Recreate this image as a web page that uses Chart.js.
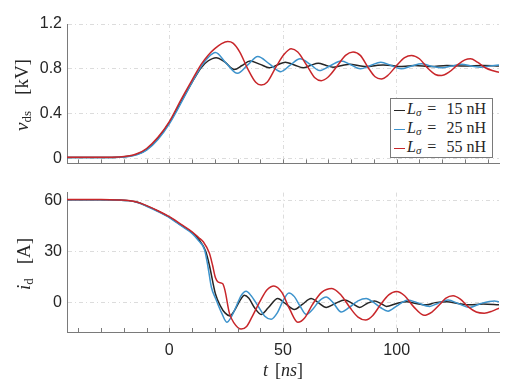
<!DOCTYPE html>
<html>
<head>
<meta charset="utf-8">
<script src="https://cdn.jsdelivr.net/npm/chart.js@4.4.1/dist/chart.umd.min.js"></script>
<style>
  body { margin: 0; background: #fff; }
  #wrap { position: relative; width: 520px; height: 387px; overflow: hidden; }
  canvas { position: absolute; left: 0; }
  .math { position: absolute; font-family: 'Liberation Serif', 'Times New Roman', serif; font-size: 18px; color: #262626; white-space: nowrap; line-height: 1; }
  .rot { transform: translate(-50%, -50%) rotate(-90deg); font-size: 19px; }
  .hor { transform: translate(-50%, -50%); }
  .math sub { font-size: 13px; font-style: normal; vertical-align: -3px; line-height: 0; }
  #legend { position: absolute; left: 390px; top: 98px; width: 101px; height: 58px; border: 1px solid #7a7a7a; background: #fff;
            font-family: 'Liberation Serif', serif; font-size: 16px; color: #262626; }
  #legend .row { height: 19px; line-height: 19px; white-space: nowrap; padding-left: 3px; }
  #legend .sw { display: inline-block; width: 11px; height: 0; border-top: 1.5px solid; vertical-align: middle; margin-right: 2px; }
  #legend sub { font-size: 11px; vertical-align: -2px; line-height: 0; }
</style>
</head>
<body>
<div id="wrap">
  <canvas id="vChart" width="520" height="178" style="top:0"></canvas>
  <canvas id="iChart" width="520" height="209" style="top:178px"></canvas>

  <div class="math rot" style="left:21px; top:95px"><i>v</i><sub>ds</sub><span style="margin-left:16px">[kV]</span></div>
  <div class="math rot" style="left:23px; top:264px"><i>i</i><sub>d</sub><span style="margin-left:14px">[A]</span></div>
  <div class="math hor" style="left:283px; top:370px"><i>t</i><span style="margin-left:7px">[<i>ns</i>]</span></div>

  <div id="legend">
    <div class="row"><span class="sw" style="color:#262626"></span><i>L</i><sub><i>σ</i></sub><span style="margin:0 10px 0 6px">=</span>15<span style="margin-left:4px">nH</span></div>
    <div class="row"><span class="sw" style="color:#3d93cc"></span><i>L</i><sub><i>σ</i></sub><span style="margin:0 10px 0 6px">=</span>25<span style="margin-left:4px">nH</span></div>
    <div class="row"><span class="sw" style="color:#c8262a"></span><i>L</i><sub><i>σ</i></sub><span style="margin:0 10px 0 6px">=</span>55<span style="margin-left:4px">nH</span></div>
  </div>
</div>

<script>
// --- tick values ---
const tTicks = [-40, -30, -20, -10, 0, 10, 20, 30, 40, 50, 60, 70, 80, 90, 100, 110, 120, 130, 140];
const tLabels = [0, 50, 100];
const vTicks = [0, 0.4, 0.8, 1.2];
const iTicks = [0, 30, 60];

// --- v_ds [kV], L = 15 nH ---
const tV15 = [-45,-30,-22,-18,-14,-10,-5,0,5,10,14,17,20.6,24.5,28.6,32,35.5,40,44,47.5,51,55,59,62,65.5,69,72,76,79.5,83,87,91,94,98,101,105,108,115,122,130,138,145];
const vds15 = [0.01,0.01,0.012,0.02,0.04,0.08,0.18,0.32,0.5,0.68,0.81,0.87,0.9,0.86,0.795,0.83,0.87,0.84,0.81,0.835,0.86,0.835,0.81,0.83,0.85,0.83,0.815,0.83,0.84,0.83,0.82,0.83,0.835,0.83,0.82,0.825,0.83,0.82,0.83,0.825,0.83,0.825];

// --- v_ds [kV], L = 25 nH ---
const tV25 = [-45,-30,-22,-18,-14,-10,-5,0,5,10,14,17,20.3,25,30,34.5,38.9,44,49,53,57.5,62,66,71,75.5,80,84,88.5,93,97.5,102,106.5,111,115,120,124,128.5,133,137,141,145];
const vds25 = [0.01,0.01,0.012,0.018,0.035,0.075,0.17,0.31,0.49,0.68,0.82,0.9,0.945,0.85,0.76,0.835,0.91,0.845,0.775,0.83,0.89,0.84,0.785,0.83,0.87,0.835,0.8,0.83,0.86,0.83,0.8,0.825,0.845,0.825,0.81,0.825,0.84,0.825,0.815,0.825,0.835];

// --- v_ds [kV], L = 55 nH ---
const tV55 = [-45,-30,-22,-18,-14,-10,-5,0,5,10,14,17,20,23,25.7,28,31,34.5,38,40.4,43,47,50.5,53.6,56.5,60.5,64,66.8,70,74,77.5,80.8,84,87.5,90.5,93.2,96,100,103.5,106.5,110,113.5,117,119.7,123,127,130,132.5,135.5,139,142,145];
const vds55 = [0.012,0.012,0.014,0.022,0.045,0.09,0.19,0.33,0.52,0.7,0.84,0.92,0.98,1.025,1.044,1.03,0.95,0.8,0.68,0.655,0.68,0.82,0.93,0.98,0.95,0.83,0.72,0.695,0.73,0.83,0.92,0.95,0.92,0.81,0.73,0.71,0.74,0.83,0.9,0.92,0.89,0.81,0.75,0.74,0.77,0.84,0.88,0.89,0.86,0.81,0.785,0.77];

// --- i_d [A], L = 15 nH ---
const tI15 = [-45,-30,-22,-18,-14,-10,-5,0,5,10,13,16,17.6,20.3,22.5,24.5,26.7,28.5,31,33,35,37.5,40.4,43.5,47.7,51,55,58.5,62.4,65.5,69,73,77.1,80.5,83.7,87,90.3,93,95.5,100,104.3,108.5,113,117,122,127,132,138,145];
const id15 = [60.2,60.2,60,59.7,58.7,56.6,53.6,50,45.5,41,37,30,22,5,-2,-6,-7.8,-5,1,4.3,2.5,-3,-6.9,-3,2.4,-0.5,-4,-1,2.4,0,-2.8,-0.5,1.5,-0.5,-2.8,-0.5,0.9,-0.5,-2.2,-0.5,0.5,-0.5,-1.3,0,0.5,-0.5,-1.3,-0.8,-1.3];

// --- i_d [A], L = 25 nH ---
const tI25 = [-45,-30,-22,-18,-14,-10,-5,0,5,10,13,15.5,17,18.5,20.5,23,25.3,27,29.5,31.5,33.8,36,39,42,44.8,47.5,50,52.6,55,57.5,60.2,63,66,69,72,75.6,79,83,86.6,90,93,96.2,100,105,109,114.5,118,122.6,127,132,137,143,145];
const id25 = [60.2,60.2,60,59.7,58.6,56.4,53.3,49.8,45.2,40.5,36,31,21,9,2,-6,-11.5,-9,-2,4,6.7,4,-2,-8,-9.8,-6,1,5.7,3.5,-2,-6.9,-4,1,3.3,0,-5.5,-3,1,2.4,0,-3,-5,-2,1.5,0,-2.2,-0.5,1.5,-0.5,-2.8,-0.5,1,0.5];

// --- i_d [A], L = 55 nH ---
const tI55 = [-45,-30,-22,-18,-14,-10,-5,0,5,10,13,15,17.6,19,20.3,21.5,23.5,24.5,26.4,28.5,31.6,34,36.5,40,43,46,49.5,53,56.5,59.5,63,67,71.5,75.5,79.5,83,86.3,89.5,93,96.5,99.9,103.5,107.5,112,115.5,119,121.5,124.8,128,131.5,135,138.5,142,145];
const id55 = [60.3,60.3,60.1,59.8,58.8,56.8,53.8,50.3,46,41.5,38,35.5,29,22,14.5,12,11,7,-6,-12,-15.5,-14,-8,1,7.5,9.8,6,-4,-11.5,-9,-1,6,8.3,4.5,-3,-8.5,-10.2,-7.5,-1,4.5,6.5,4,-2.5,-7.4,-5.5,-1,2.5,4,2,-2.5,-5.5,-6.2,-5,-3.2];

const BLACK = '#262626', BLUE = '#3d93cc', RED = '#c8262a';
const axisColor = '#7a7a7a';
const gridColor = '#dcdcdc';
const tickFont = { family: "'Liberation Sans', Arial, sans-serif", size: 16 };

const pts = (xs, ys) => xs.map((x, i) => ({ x, y: ys[i] }));

function line(data, color) {
  return { data, borderColor: color, backgroundColor: color, borderWidth: 1.5,
           pointRadius: 0, cubicInterpolationMode: 'monotone', fill: false };
}

// small tick marks pointing into the plot, like the original
const innerTicks = {
  id: 'innerTicks',
  afterDatasetsDraw(chart) {
    const { ctx, chartArea, scales: { x } } = chart;
    ctx.save();
    ctx.strokeStyle = axisColor;
    ctx.lineWidth = 1;
    x.ticks.forEach(t => {
      const px = Math.round(x.getPixelForValue(t.value)) + 0.5;
      ctx.beginPath();
      ctx.moveTo(px, chartArea.bottom);
      ctx.lineTo(px, chartArea.bottom - 4);
      ctx.stroke();
    });
    ctx.restore();
  }
};

function makeOptions(yMin, yMax, yTicks, showX, padTop, padBottom) {
  return {
    responsive: false,
    animation: false,
    devicePixelRatio: 1,
    layout: { padding: { top: padTop, right: 21, bottom: padBottom, left: 0 } },
    plugins: { legend: { display: false }, tooltip: { enabled: false } },
    scales: {
      x: {
        type: 'linear', min: -45, max: 145,
        afterBuildTicks: s => { s.ticks = tTicks.map(v => ({ value: v })); },
        afterFit: s => { s.height = showX ? 55 : 0; },
        ticks: { display: showX, autoSkip: false, maxRotation: 0, padding: 9, font: tickFont, color: '#262626',
                 callback: v => tLabels.includes(v) ? String(v) : '' },
        grid: { drawTicks: false, lineWidth: 1,
                color: c => (c.tick && tLabels.includes(c.tick.value)) ? gridColor : 'rgba(0,0,0,0)' },
        border: { display: true, color: axisColor, width: 1, dash: [4, 3, 1, 3] }
      },
      y: {
        min: yMin, max: yMax,
        afterBuildTicks: s => { s.ticks = yTicks.map(v => ({ value: v })); },
        afterFit: s => { s.width = 67; },
        ticks: { padding: 5, font: tickFont, color: '#262626', callback: v => String(v) },
        grid: { drawTicks: false, color: gridColor, lineWidth: 1 },
        border: { display: true, color: axisColor, width: 1, dash: [4, 3, 1, 3] }
      }
    }
  };
}

new Chart(document.getElementById('vChart'), {
  type: 'line',
  data: {
    datasets: [
      line(pts(tV55, vds55), RED),
      line(pts(tV25, vds25), BLUE),
      line(pts(tV15, vds15), BLACK)
    ]
  },
  options: makeOptions(-0.043, 1.2, vTicks, false, 24, 8),
  plugins: [innerTicks]
});

new Chart(document.getElementById('iChart'), {
  type: 'line',
  data: {
    datasets: [
      line(pts(tI55, id55), RED),
      line(pts(tI25, id25), BLUE),
      line(pts(tI15, id15), BLACK)
    ]
  },
  options: makeOptions(-17.2, 64.4, iTicks, true, 7, 0),
  plugins: [innerTicks]
});
</script>
</body>
</html>
